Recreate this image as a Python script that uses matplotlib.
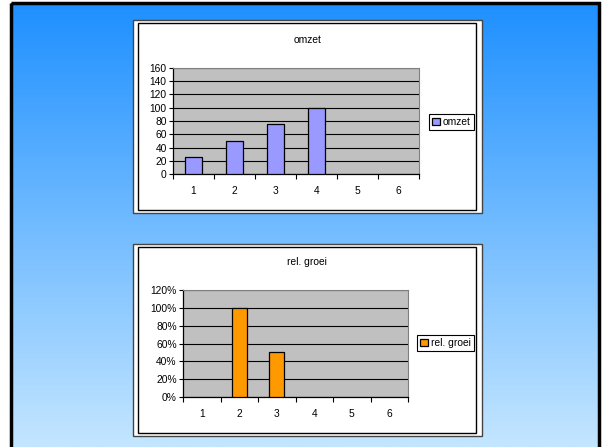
import numpy as np
import matplotlib
matplotlib.use("Agg")
import matplotlib.pyplot as plt
from matplotlib.patches import Rectangle
from matplotlib.ticker import PercentFormatter, MultipleLocator, FixedLocator

categories = [1, 2, 3, 4, 5, 6]
omzet = [25, 50, 75, 100, np.nan, np.nan]
rel_groei = [np.nan, 1.00, 0.50, np.nan, np.nan, np.nan]

W, H = 602, 447
plt.rcParams["font.family"] = ["Liberation Sans", "DejaVu Sans"]
plt.rcParams["font.size"] = 7.4

fig = plt.figure(figsize=(W / 100, H / 100), dpi=100)


def px(x0, y0, x1, y1):
    # pixel box (top-left origin) -> figure fraction rect
    return [x0 / W, 1 - y1 / H, (x1 - x0) / W, (y1 - y0) / H]


# slide background with vertical blue gradient
bg = fig.add_axes([0, 0, 1, 1])
bg.set_xlim(0, W)
bg.set_ylim(H, 0)
bg.axis("off")
t = np.linspace(0, 1, 256)[:, None, None]
top = np.array([30, 144, 255]) / 255
bot = np.array([196, 230, 255]) / 255
bg.imshow(top + (bot - top) * t, extent=(11, 600, 447, 3), aspect="auto")
bg.add_patch(Rectangle((11, 3), 588, 450, fill=False, ec="black", lw=2.5))

# white chart frames
for y0, y1 in [(20, 213), (244, 436)]:
    bg.add_patch(Rectangle((133, y0), 349, y1 - y0, fc="white", ec="#444444", lw=1))
    bg.add_patch(Rectangle((138, y0 + 3), 338, y1 - y0 - 6, fill=False, ec="black", lw=1))


def excel_bar(rect, values, color, ymax, step, pct, title, title_xy, leg_xy, pad):
    ax = fig.add_axes(px(*rect))
    ax.set_facecolor("#C0C0C0")
    ax.bar(categories, values, width=0.4, color=color, edgecolor="black",
           lw=0.9, zorder=3, label=title)
    ax.set_xlim(0.5, 6.5)
    ax.set_ylim(0, ymax)
    ax.yaxis.set_major_locator(MultipleLocator(step))
    if pct:
        ax.yaxis.set_major_formatter(PercentFormatter(1, decimals=0))
    ax.grid(axis="y", color="black", lw=0.8, zorder=1)
    ax.set_axisbelow(True)
    ax.xaxis.set_major_locator(FixedLocator(np.arange(0.5, 7, 1)))
    ax.xaxis.set_minor_locator(FixedLocator(categories))
    ax.set_xticklabels([], minor=False)
    ax.set_xticklabels([str(c) for c in categories], minor=True)
    ax.tick_params(axis="x", which="major", length=3.5, width=0.8, direction="out")
    ax.tick_params(axis="x", which="minor", length=0, pad=pad)
    ax.tick_params(axis="y", length=3, width=0.8, pad=1.5)
    for s in ("top", "right"):
        ax.spines[s].set_color("#808080")
        ax.spines[s].set_linewidth(0.8)
    for s in ("left", "bottom"):
        ax.spines[s].set_linewidth(0.9)
    fig.text(title_xy[0] / W, 1 - title_xy[1] / H, title, ha="center", va="center")
    leg = fig.legend(*ax.get_legend_handles_labels(), loc="center",
                     bbox_to_anchor=(leg_xy[0] / W, 1 - leg_xy[1] / H),
                     fancybox=False, edgecolor="black", framealpha=1,
                     handlelength=0.75, handleheight=0.75, handletextpad=0.3,
                     borderpad=0.3, borderaxespad=0)
    leg.get_frame().set_linewidth(0.8)
    return ax


excel_bar((173, 68, 419, 174), omzet, "#9999FF", 160, 20, False,
          "omzet", (308, 40), (451.5, 122), 9)
excel_bar((183, 290, 408, 397), rel_groei, "#FF9900", 1.2, 0.2, True,
          "rel. groei", (307, 262), (445.5, 343), 8.5)

fig.savefig("out.png", dpi=100)
